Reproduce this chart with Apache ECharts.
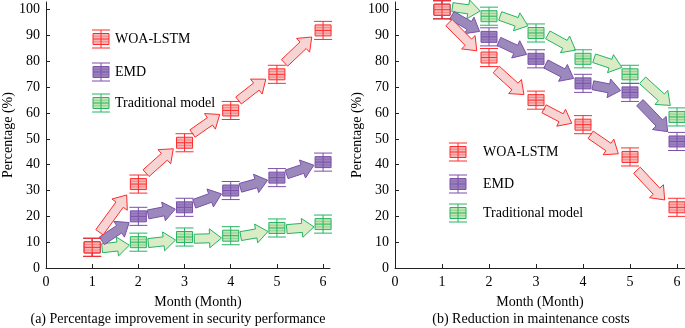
<!DOCTYPE html>
<html>
<head>
<meta charset="utf-8">
<script src="https://cdn.jsdelivr.net/npm/echarts@6/dist/echarts.min.js"></script>
<style>
  html, body { margin: 0; padding: 0; background: #fff; }
  #chart { width: 685px; height: 328px; }
</style>
</head>
<body>
<div id="chart"></div>
<script>
// data
const months = [1, 2, 3, 4, 5, 6]
const monthTicks = [0, 1, 2, 3, 4, 5, 6]
const pctTicks = [0, 10, 20, 30, 40, 50, 60, 70, 80, 90, 100]
const seriesNames = ['WOA-LSTM', 'EMD', 'Traditional model']

// (a) security performance improvement (%)
const improveWoa = [8, 32.5, 48.5, 61, 75, 92]
const improveEmd = [8, 20, 23.5, 30, 35, 41]
const improveTrad = [8, 10, 12, 12.5, 15.5, 17]

// (b) maintenance cost reduction (%)
const costWoa = [100, 81.5, 65, 55.5, 43, 23.5]
const costEmd = [100, 89.5, 81, 71.5, 68, 49]
const costTrad = [100, 97.5, 91, 81, 75, 58.5]

// half length of the error bars (%)
const errHalf = 3.5

// ------------------------------------------------------------
// styles
// ------------------------------------------------------------
const FONT = "'Liberation Serif', 'Times New Roman', serif"
const palette = [
  { stroke: '#ff2b2b', box: '#f5b8b8', arrow: '#f6d4d4' },
  { stroke: '#7a50aa', box: '#9a82bd', arrow: '#9c89bb' },
  { stroke: '#25b463', box: '#c6e4b2', arrow: '#d9ecc6' }
]

function pairs(arr) {
  return months.map((m, i) => [m, arr[i]])
}

function segments(arr) {
  const out = []
  for (let i = 0; i < months.length - 1; i++) {
    out.push([months[i], arr[i], months[i + 1], arr[i + 1]])
  }
  return out
}

// box + error bar marker, drawn around (cx, cy)
function markerShapes(cx, cy, e, col) {
  const hw = 8
  const bh = 5.5
  const line = (x1, y1, x2, y2, op) => ({
    type: 'line',
    shape: { x1, y1, x2, y2 },
    style: { stroke: col.stroke, lineWidth: 1, opacity: op == null ? 1 : op }
  })
  return [
    {
      type: 'rect',
      shape: { x: cx - hw, y: cy - bh, width: hw * 2, height: bh * 2 },
      style: { fill: col.box, stroke: col.stroke, lineWidth: 1 }
    },
    line(cx - hw, cy - bh / 2, cx + hw, cy - bh / 2, 0.35),
    line(cx - hw, cy + bh / 2, cx + hw, cy + bh / 2, 0.35),
    line(cx - hw, cy, cx + hw, cy),
    line(cx, cy - e, cx, cy + e),
    line(cx - hw - 1, cy - e, cx + hw + 1, cy - e),
    line(cx - hw - 1, cy + e, cx + hw + 1, cy + e)
  ]
}

function markerSeries(idx, data, col) {
  return {
    type: 'custom',
    xAxisIndex: idx,
    yAxisIndex: idx,
    data: data,
    encode: { x: 0, y: 1 },
    z: 5,
    renderItem: (params, api) => {
      const c = api.coord([api.value(0), api.value(1)])
      const e = api.size([0, errHalf])[1]
      return { type: 'group', children: markerShapes(c[0], c[1], e, col) }
    }
  }
}

// block arrow between consecutive points
function arrowSeries(idx, data, col, offset) {
  return {
    type: 'custom',
    xAxisIndex: idx,
    yAxisIndex: idx,
    data: data,
    encode: { x: [0, 2], y: [1, 3] },
    z: 3,
    renderItem: (params, api) => {
      const p1 = api.coord([api.value(0), api.value(1)])
      const p2 = api.coord([api.value(2), api.value(3)])
      const dx = p2[0] - p1[0]
      const dy = p2[1] - p1[1]
      const L = Math.sqrt(dx * dx + dy * dy)
      const ux = dx / L
      const uy = dy / L
      const nx = uy
      const ny = -ux
      const f0 = 0.21
      const f1 = 0.8
      const sx = p1[0] + ux * L * f0 + nx * offset
      const sy = p1[1] + uy * L * f0 + ny * offset
      const ex = p1[0] + ux * L * f1 + nx * offset
      const ey = p1[1] + uy * L * f1 + ny * offset
      const len = L * (f1 - f0)
      const headLen = Math.min(12, len * 0.5)
      const sw = 4.5
      const hw = 9.5
      const bx = ex - ux * headLen
      const by = ey - uy * headLen
      const pts = [
        [sx + nx * sw, sy + ny * sw],
        [bx + nx * sw, by + ny * sw],
        [bx + nx * hw, by + ny * hw],
        [ex, ey],
        [bx - nx * hw, by - ny * hw],
        [bx - nx * sw, by - ny * sw],
        [sx - nx * sw, sy - ny * sw]
      ]
      return {
        type: 'polygon',
        shape: { points: pts },
        style: { fill: col.arrow, stroke: col.stroke, lineWidth: 1 }
      }
    }
  }
}

function xAxisCfg(idx, max) {
  return {
    type: 'value',
    gridIndex: idx,
    min: 0,
    max: max,
    axisLine: { show: true, lineStyle: { color: '#222', width: 1 } },
    axisTick: { show: true, inside: true, length: 4, customValues: monthTicks, lineStyle: { color: '#222' } },
    axisLabel: { customValues: monthTicks, color: '#000', fontFamily: FONT, fontSize: 14, margin: 7 },
    splitLine: { show: false }
  }
}

function yAxisCfg(idx) {
  return {
    type: 'value',
    gridIndex: idx,
    min: 0,
    max: 103,
    name: 'Percentage (%)',
    nameLocation: 'middle',
    nameGap: 31,
    nameTextStyle: { color: '#000', fontFamily: FONT, fontSize: 14 },
    axisLine: { show: true, lineStyle: { color: '#222', width: 1 } },
    axisTick: { show: true, inside: true, length: 4, customValues: pctTicks, lineStyle: { color: '#222' } },
    axisLabel: { customValues: pctTicks, color: '#000', fontFamily: FONT, fontSize: 14, margin: 6 },
    splitLine: { show: false }
  }
}

function text(x, y, str, align) {
  return {
    type: 'text',
    x: x,
    y: y,
    style: {
      text: str,
      fill: '#000',
      font: '14px ' + FONT,
      align: align || 'center',
      verticalAlign: 'middle'
    }
  }
}

function legend(cx, ys, tx) {
  const items = []
  ys.forEach((y, i) => {
    items.push({ type: 'group', children: markerShapes(cx, y, 9, palette[i]) })
    items.push(text(tx, y, seriesNames[i], 'left'))
  })
  return items
}

const chart = echarts.init(document.getElementById('chart'), null, { renderer: 'canvas' })

const option = {
  animation: false,
  backgroundColor: '#fff',
  grid: [
    { left: 42, top: 2, width: 288, height: 266 },
    { left: 395, top: 2, width: 290, height: 266 }
  ],
  xAxis: [xAxisCfg(0, 6.15), xAxisCfg(1, 6.17)],
  yAxis: [yAxisCfg(0), yAxisCfg(1)],
  series: [
    arrowSeries(0, segments(improveTrad), palette[2], -2),
    arrowSeries(0, segments(improveEmd), palette[1], 0),
    arrowSeries(0, segments(improveWoa), palette[0], 3),
    markerSeries(0, pairs(improveTrad), palette[2]),
    markerSeries(0, pairs(improveEmd), palette[1]),
    markerSeries(0, pairs(improveWoa), palette[0]),

    arrowSeries(1, segments(costTrad), palette[2], 4),
    arrowSeries(1, segments(costEmd), palette[1], 0),
    arrowSeries(1, segments(costWoa), palette[0], -4),
    markerSeries(1, pairs(costTrad), palette[2]),
    markerSeries(1, pairs(costEmd), palette[1]),
    markerSeries(1, pairs(costWoa), palette[0])
  ],
  graphic: [
    ...legend(101, [39, 72, 103], 115),
    ...legend(458, [152, 184, 213], 483),
    text(198, 302, 'Month (Month)'),
    text(540, 302, 'Month (Month)'),
    text(178, 319, '(a) Percentage improvement in security performance'),
    text(531, 319, '(b) Reduction in maintenance costs')
  ]
}

chart.setOption(option)
</script>
</body>
</html>
